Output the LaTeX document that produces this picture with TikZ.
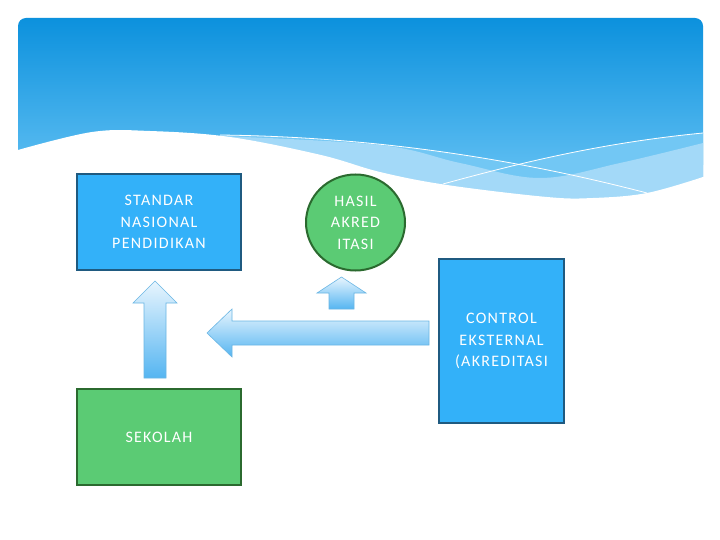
\documentclass[tikz,border=0pt]{standalone}
\usepackage{fontspec}
\setmainfont{Carlito}[LetterSpace=8]
\usetikzlibrary{shapes.geometric}
\definecolor{hdrtop}{HTML}{0C91DD}
\definecolor{hdrbot}{HTML}{5ABCF1}
\definecolor{bandmid}{HTML}{72C7F4}
\definecolor{bandlt}{HTML}{A3D9F8}
\definecolor{boxblue}{HTML}{33B1F9}
\definecolor{boxblueline}{HTML}{1F5A80}
\definecolor{boxgreen}{HTML}{5BCB74}
\definecolor{boxgreenline}{HTML}{2B6A2F}
\definecolor{arrtop}{HTML}{E8F5FE}
\definecolor{arrbot}{HTML}{55B5F1}
\definecolor{arrline}{HTML}{6AB6E4}
\tikzset{
  lbl/.style={text=white, font=\fontsize{16}{21.5}\selectfont, align=center},
  bluebox/.style={lbl, rectangle, fill=boxblue, draw=boxblueline, line width=1.5pt},
  greenbox/.style={lbl, rectangle, fill=boxgreen, draw=boxgreenline, line width=1.5pt},
  greenoval/.style={lbl, ellipse, fill=boxgreen, draw=boxgreenline, line width=2pt, inner sep=0pt},
  blockarrow/.style={top color=arrtop, bottom color=arrbot, draw=arrline, line width=0.6pt},
  waveline/.style={white, line width=0.8pt}
}
\begin{document}
\begin{tikzpicture}[x=1pt,y=-1pt]
\useasboundingbox (0,0) rectangle (720,540);
\fill[white] (0,0) rectangle (720,540);
% header with wave
\begin{scope}
  \clip[rounded corners=8] (18,260) -- (18,18) -- (703,18) -- (703,260) -- cycle;
  \shade[top color=hdrtop, bottom color=hdrbot] (18,18) rectangle (703,165);
  \fill[hdrbot] (18,164) rectangle (703,215);
  % bands below the crossing lines
  \fill[bandmid] (220,135) .. controls (380,137) and (520,160) .. (647,193) -- (647,215) -- (220,215) -- cycle;
  \fill[bandmid] (443,184) .. controls (520,163) and (600,143) .. (703,133) -- (703,215) -- (443,215) -- cycle;
  \fill[bandlt] plot[smooth, tension=0.6] coordinates {(220,136) (380,145) (460,163) (540,178) (620,163) (703,143)} -- (703,215) -- (220,215) -- cycle;
  \draw[waveline] (220,135) .. controls (380,137) and (520,160) .. (647,193);
  \draw[waveline] (443,184) .. controls (520,163) and (600,143) .. (703,133);
\end{scope}
% white area under the wave (unclipped, to hide the header's lower edge)
\fill[white] (10,150) -- plot[smooth, tension=0.6] coordinates {(18,150) (92,132) (150,131) (230,137) (321,155) (380,172) (447,185) (547,197) (593,198) (647,193) (703,177)} -- (712,177) -- (712,225) -- (10,225) -- cycle;
% nodes
\node[bluebox, minimum width=164, minimum height=96] (snp) at (159,222) {STANDAR\\NASIONAL\\PENDIDIKAN};
\node[greenoval, minimum width=99, minimum height=96] (hasil) at (355.5,222.5) {HASIL\\AKRED\\ITASI};
\node[bluebox, minimum width=125, minimum height=164] (ctrl) at (501.5,341) {CONTROL\\EKSTERNAL\\(AKREDITASI};
\node[greenbox, minimum width=164, minimum height=96] (sek) at (159,437) {SEKOLAH};
% block arrows
\path[blockarrow] (144,378) -- (144,303) -- (133,303) -- (155,281) -- (177,303) -- (166,303) -- (166,378) -- cycle;
\path[blockarrow] (329,309) -- (329,293) -- (317,293) -- (341.5,277) -- (366,293) -- (354,293) -- (354,309) -- cycle;
\path[blockarrow] (429,321) -- (232,321) -- (232,309) -- (207,333) -- (232,357) -- (232,345) -- (429,345) -- cycle;
\end{tikzpicture}
\end{document}
